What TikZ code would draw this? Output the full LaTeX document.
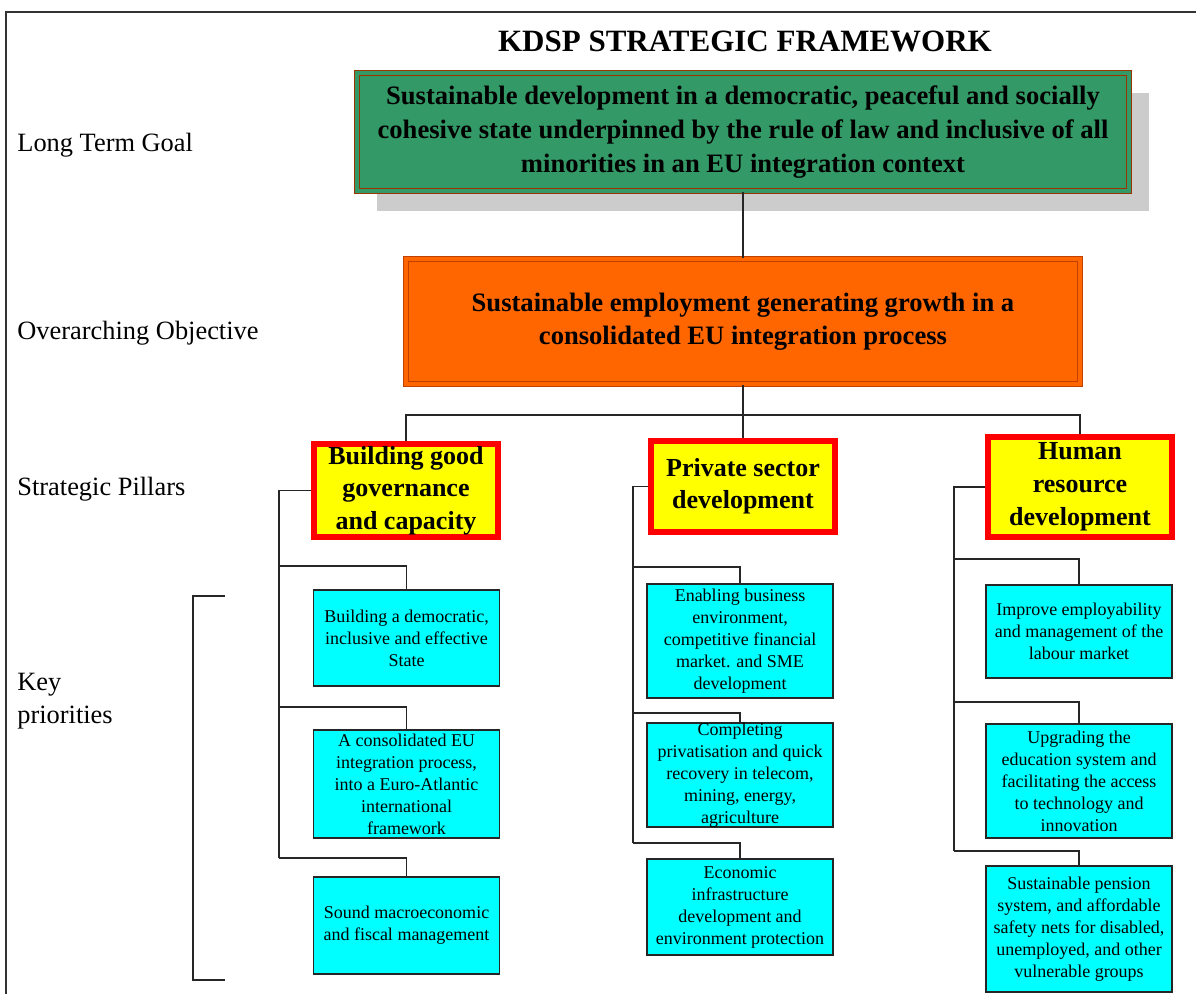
\documentclass[tikz,border=0pt]{standalone}
\usepackage{fontspec}
\setmainfont{Liberation Serif}
\usetikzlibrary{shadows}

\definecolor{goalgreen}{HTML}{339966}
\definecolor{goaledge}{HTML}{993300}
\definecolor{objorange}{HTML}{FF6600}
\definecolor{objedge}{HTML}{C04000}
\definecolor{prioblue}{HTML}{00FFFF}
\definecolor{pilyellow}{HTML}{FFFF00}
\definecolor{pilred}{HTML}{FF0000}

\tikzset{
  link/.style={draw=black!85, line width=0.7pt},
  side/.style={anchor=west, inner sep=0pt, align=left, font=\fontsize{13.2}{16.5}\selectfont},
  title/.style={inner sep=0pt, font=\bfseries\fontsize{15.5}{18}\selectfont},
  goalbox/.style={draw=goaledge, line width=0.6pt, double=goalgreen, double distance=1.6pt,
    fill=goalgreen, inner sep=0pt, align=center,
    general shadow={fill=black!20, shadow xshift=10pt, shadow yshift=-10pt},
    font=\bfseries\fontsize{13.3}{16.8}\selectfont},
  objbox/.style={draw=objedge, line width=0.6pt, double=objorange, double distance=1.6pt,
    fill=objorange, inner sep=0pt, align=center,
    font=\bfseries\fontsize{13.3}{16.5}\selectfont},
  pillar/.style={draw=pilred, line width=3pt, fill=pilyellow, inner sep=0pt, align=center,
    minimum width=92pt, font=\bfseries\fontsize{13}{16.2}\selectfont},
  prio/.style={draw=black!85, line width=0.7pt, fill=prioblue, inner sep=0pt, align=center,
    minimum width=93pt, font=\fontsize{9}{11}\selectfont}
}

\begin{document}
\begin{tikzpicture}[x=0.5pt, y=-0.5pt]
  \useasboundingbox (0,0) rectangle (1196,994);
  % frame
  \draw[black!80, line width=0.8pt] (6,994) -- (6,12) -- (1196,12);
  \node[title] (ttl) at (745,41) {KDSP STRATEGIC FRAMEWORK};

  % row labels on the left
  \node[side] (lgoal) at (17,145) {Long Term Goal};
  \node[side] (lobj) at (17,333) {Overarching Objective};
  \node[side] (lpil) at (17,489) {Strategic Pillars};
  \node[side] (lkey) at (17,701) {Key\\priorities};
  \draw[link] (225,596) -| (193,980) -- (225,980);

  % goal and objective
  \node[goalbox, minimum width=386pt, minimum height=59pt] (goal) at (743,132)
    {Sustainable development in a democratic, peaceful and socially\\
     cohesive state underpinned by the rule of law and inclusive of all\\
     minorities in an EU integration context};
  \node[objbox, minimum width=337pt, minimum height=62.5pt] (obj) at (743,321.5)
    {Sustainable employment generating growth in a\\
     consolidated EU integration process};

  % pillars
  \node[pillar, minimum height=46.5pt] (pA) at (406,490.5) {Building good\\governance\\and capacity};
  \node[pillar, minimum height=45.5pt] (pB) at (743,486.5) {Private sector\\development};
  \node[pillar, minimum height=50pt, font=\bfseries\fontsize{13}{16.5}\selectfont] (pC) at (1080,487)
    {Human\\resource\\development};

  \coordinate (bus) at (743,415);
  \draw[link] (goal.south) -- (goal.south |- obj.north);
  \draw[link] (obj.south) -- (bus);
  \foreach \p in {pA,pB,pC}
    \draw[link] (bus) -| (\p.north);

  % key priorities
  \node[prio, minimum height=48pt] (kA1) at (406.5,638) {Building a democratic,\\inclusive and effective\\State};
  \node[prio, minimum height=54pt] (kA2) at (406.5,784) {A consolidated EU\\integration process,\\into a Euro-Atlantic\\international\\framework};
  \node[prio, minimum height=48.5pt] (kA3) at (406.5,925.5) {Sound macroeconomic\\and fiscal management};

  \node[prio, minimum height=57pt] (kB1) at (740,641) {Enabling business\\environment,\\competitive financial\\market. and SME\\development};
  \node[prio, minimum height=51pt] (kB2) at (740,775) {Completing\\privatisation and quick\\recovery in telecom,\\mining, energy,\\agriculture};
  \node[prio, minimum height=48pt] (kB3) at (740,907) {Economic\\infrastructure\\development and\\environment protection};

  \node[prio, minimum height=46.5pt] (kC1) at (1079,631.5) {Improve employability\\and management of the\\labour market};
  \node[prio, minimum height=57pt] (kC2) at (1079,781) {Upgrading the\\education system and\\facilitating the access\\to technology and\\innovation};
  \node[prio, minimum height=63pt] (kC3) at (1079,929) {Sustainable pension\\system, and affordable\\safety nets for disabled,\\unemployed, and other\\vulnerable groups};

  % trunks and branches
  \foreach \c/\tx/\ya/\yb/\yc in {A/279/566/707/858, B/633/567/713/843, C/954/559/702/851}{
    \draw[link] (p\c.west) -| (\tx,\yc);
    \draw[link] (k\c1.north) |- (\tx,\ya);
    \draw[link] (k\c2.north) |- (\tx,\yb);
    \draw[link] (k\c3.north) |- (\tx,\yc);
  }
\end{tikzpicture}
\end{document}
